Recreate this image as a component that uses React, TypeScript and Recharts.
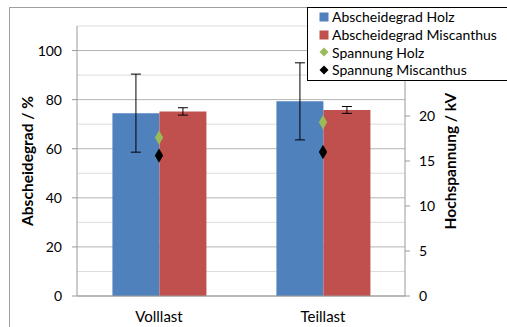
import { ComposedChart, Bar, Scatter, XAxis, YAxis, ZAxis, CartesianGrid, ErrorBar, Legend } from 'recharts';

const categories = ['Volllast', 'Teillast'];
const abscheidegradHolz = [74.5, 79.3];
const abscheidegradMiscanthus = [75.2, 75.8];
const fehlerHolz = [15.9, 15.7];
const fehlerMiscanthus = [1.5, 1.4];
const spannungHolz = [17.6, 19.3];
const spannungMiscanthus = [15.6, 16.0];

const pctTicks = [0, 20, 40, 60, 80, 100];
const pctMinor = [10, 30, 50, 70, 90, 110];
// the legend box sits over the top of the kV axis, so labels stop at 20
const kvTicks = [0, 5, 10, 15, 20];
const edgeTicks = [0, 1, 2];

const data = categories.map((name, i) => ({
  name,
  holz: abscheidegradHolz[i],
  miscanthus: abscheidegradMiscanthus[i],
  errHolz: fehlerHolz[i],
  errMiscanthus: fehlerMiscanthus[i],
  spHolz: spannungHolz[i],
  spMiscanthus: spannungMiscanthus[i],
}));

const FONT = 'Lato, "Open Sans", sans-serif';
const AXIS = '#9a9a9a';

function AxisTitle({ viewBox, value, dx }: any) {
  const cx = viewBox.x + dx;
  const cy = viewBox.y + viewBox.height / 2;
  return (
    <text
      x={cx}
      y={cy}
      transform={`rotate(-90 ${cx} ${cy})`}
      textAnchor="middle"
      dominantBaseline="central"
      fontWeight={700}
      fontSize={15.5}
      fontFamily={FONT}
      fill="#000"
    >
      {value}
    </text>
  );
}

function LegendBox({ payload }: any) {
  return (
    <div
      style={{
        border: '1px solid #000',
        background: '#fff',
        width: 230,
        padding: '0 0 1px 11px',
        fontFamily: FONT,
        fontSize: 14,
        color: '#000',
      }}
    >
      {(payload || []).map((entry: any) => (
        <div key={entry.value} style={{ display: 'flex', alignItems: 'center', height: 17.7, whiteSpace: 'nowrap' }}>
          <svg width={10} height={10} style={{ marginRight: 3, flexShrink: 0 }}>
            {entry.type === 'diamond' ? (
              <polygon points="5,0.5 9.5,5 5,9.5 0.5,5" fill={entry.color} />
            ) : (
              <rect x={0.5} y={0.5} width={9} height={9} fill={entry.color} />
            )}
          </svg>
          <span>{entry.value}</span>
        </div>
      ))}
    </div>
  );
}

export default function App() {
  return (
    <div style={{ position: 'absolute', left: 0, top: 0, width: 507, height: 327, overflow: 'hidden', background: '#fff' }}>
      <div
        style={{
          position: 'absolute',
          left: 9,
          top: 7,
          width: 600,
          height: 400,
          border: '1px solid #a0a0a0',
        }}
      />
      <div style={{ position: 'absolute', left: 0, top: 0 }}>
        <ComposedChart
          width={507}
          height={327}
          data={data}
          margin={{ top: 26, right: 0, bottom: 0, left: 0 }}
          barCategoryGap="21.6%"
          barGap={0}
        >
          <CartesianGrid yAxisId="pct" vertical={false} horizontalValues={pctMinor} stroke="#dcdcdc" />
          <CartesianGrid yAxisId="pct" vertical={false} horizontalValues={pctTicks} stroke="#b4b4b4" />
          <XAxis
            xAxisId="edges"
            type="number"
            domain={[0, 2]}
            ticks={edgeTicks}
            tickFormatter={() => ''}
            axisLine={false}
            tickSize={4}
            height={0}
            stroke={AXIS}
          />
          <XAxis
            dataKey="name"
            tickLine={false}
            tickSize={0}
            tickMargin={15}
            height={31}
            stroke={AXIS}
            tick={{ fill: '#000', fontSize: 15, fontFamily: FONT }}
          />
          <YAxis
            yAxisId="pct"
            orientation="left"
            width={77}
            domain={[0, 110]}
            ticks={pctTicks}
            interval={0}
            tickSize={5}
            tickMargin={10}
            stroke={AXIS}
            tick={{ fill: '#000', fontSize: 14, fontFamily: FONT }}
            label={<AxisTitle value="Abscheidegrad / %" dx={27} />}
          />
          <YAxis
            yAxisId="kv"
            orientation="right"
            width={102}
            domain={[0, 30]}
            ticks={kvTicks}
            interval={0}
            tickSize={5}
            tickMargin={9}
            stroke={AXIS}
            tick={{ fill: '#000', fontSize: 14, fontFamily: FONT }}
            label={<AxisTitle value="Hochspannung / kV" dx={45} />}
          />
          <ZAxis range={[60, 60]} />
          <Legend
            layout="vertical"
            align="center"
            verticalAlign="middle"
            wrapperStyle={{ left: 307, top: 7, width: 'auto' }}
            content={<LegendBox />}
          />
          <Bar
            yAxisId="pct"
            dataKey="holz"
            name="Abscheidegrad Holz"
            fill="#4F81BD"
            legendType="square"
            isAnimationActive={false}
          >
            <ErrorBar dataKey="errHolz" direction="y" width={5} stroke="#000" strokeWidth={1} />
          </Bar>
          <Bar
            yAxisId="pct"
            dataKey="miscanthus"
            name="Abscheidegrad Miscanthus"
            fill="#C0504D"
            legendType="square"
            isAnimationActive={false}
          >
            <ErrorBar dataKey="errMiscanthus" direction="y" width={5} stroke="#000" strokeWidth={1} />
          </Bar>
          <Scatter
            yAxisId="kv"
            dataKey="spHolz"
            name="Spannung Holz"
            fill="#9BBB59"
            shape="diamond"
            legendType="diamond"
            isAnimationActive={false}
          />
          <Scatter
            yAxisId="kv"
            dataKey="spMiscanthus"
            name="Spannung Miscanthus"
            fill="#000"
            shape="diamond"
            legendType="diamond"
            isAnimationActive={false}
          />
        </ComposedChart>
      </div>
    </div>
  );
}
